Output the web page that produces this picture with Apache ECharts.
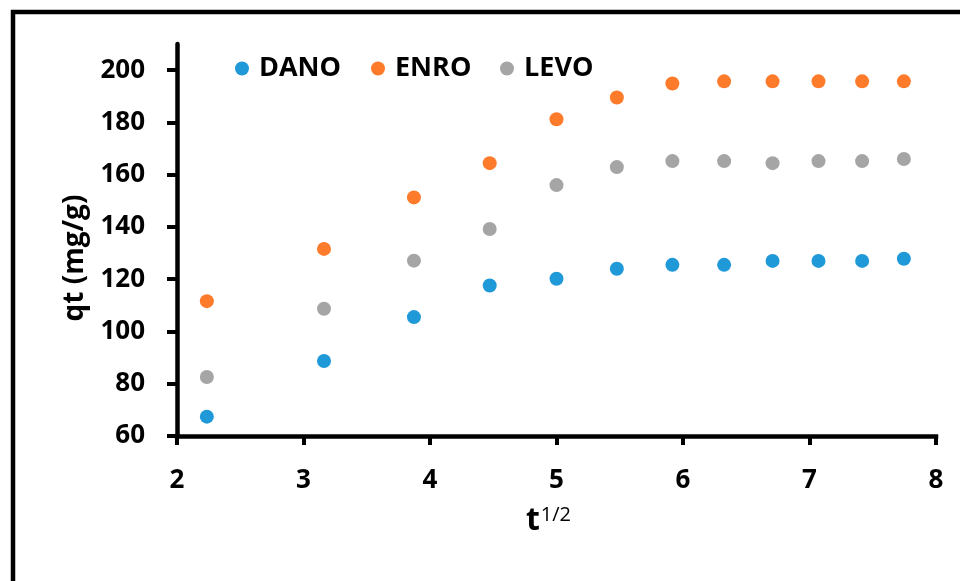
<!DOCTYPE html>
<html>
<head>
<meta charset="utf-8">
<script src="https://cdn.jsdelivr.net/npm/echarts@6/dist/echarts.min.js"></script>
<style>
html,body{margin:0;padding:0;background:#fff;}
#c{width:960px;height:581px;}
</style>
</head>
<body>
<div id="c"></div>
<script>
// sqrt(t) values (t = 5 ... 60 min)
var tHalf = [2.236, 3.162, 3.873, 4.472, 5.0, 5.477, 5.916, 6.325, 6.708, 7.071, 7.416, 7.746];
var dano = [67.4, 88.7, 105.5, 117.6, 120.2, 124.0, 125.5, 125.5, 127.0, 127.0, 127.0, 127.8];
var enro = [111.6, 131.6, 151.3, 164.4, 181.2, 189.5, 194.9, 195.7, 195.7, 195.7, 195.7, 195.7];
var levo = [82.6, 108.7, 127.1, 139.2, 156.0, 162.9, 165.2, 165.2, 164.4, 165.2, 165.2, 166.0];
var seriesNames = ['DANO', 'ENRO', 'LEVO'];
var seriesColors = ['#1f99d8', '#fd7b2b', '#a5a5a5'];
var yTicks = [60, 80, 100, 120, 140, 160, 180, 200];
var xTicks = [2, 3, 4, 5, 6, 7, 8];

var FONT = '"Open Sans", "Liberation Sans", sans-serif';
var seriesData = [dano, enro, levo];

function pairs(ys) {
  return ys.map(function (v, i) { return [tHalf[i], v]; });
}

var chart = echarts.init(document.getElementById('c'), null, {renderer: 'canvas'});

var legendLefts = [230, 366, 495];
var legends = seriesNames.map(function (n, i) {
  return {
    data: [n],
    left: legendLefts[i],
    top: 50,
    icon: 'circle',
    itemWidth: 24,
    itemHeight: 14,
    selectedMode: false,
    textStyle: {fontFamily: FONT, fontWeight: 'bold', fontSize: 27, color: '#000'}
  };
});

chart.setOption({
  animation: false,
  backgroundColor: '#fff',
  graphic: [{
    type: 'rect',
    shape: {x: 13, y: 12, width: 1200, height: 1000},
    style: {fill: null, stroke: '#000', lineWidth: 4.5},
    silent: true
  }],
  legend: legends,
  grid: {left: 177, right: 24, top: 44, bottom: 145, containLabel: false},
  xAxis: {
    type: 'value',
    min: 2, max: 8, interval: 1,
    name: '{t|t}{s|1/2}',
    nameLocation: 'middle',
    nameGap: 69,
    nameTextStyle: {
      padding: [0, 16, 0, 0],
      rich: {
        t: {fontFamily: FONT, fontWeight: 'bold', fontSize: 32, color: '#000'},
        s: {fontFamily: FONT, fontWeight: 'normal', fontSize: 20, color: '#000', verticalAlign: 'top', padding: [0, 0, 0, 1]}
      }
    },
    splitLine: {show: false},
    axisLine: {show: true, onZero: false, lineStyle: {color: '#000', width: 4.5, cap: 'square'}},
    axisTick: {show: true, length: 9, lineStyle: {color: '#000', width: 4}},
    axisLabel: {
      margin: 32,
      fontFamily: FONT, fontWeight: 'bold', fontSize: 26, color: '#000',
      customValues: xTicks
    }
  },
  yAxis: {
    type: 'value',
    min: 60, max: 210, interval: 20,
    name: 'qt (mg/g)',
    nameLocation: 'middle',
    nameGap: 86,
    nameTextStyle: {fontFamily: FONT, fontWeight: 'bold', fontSize: 28, color: '#000', padding: [0, 36, 0, 0]},
    splitLine: {show: false},
    axisLine: {show: true, onZero: false, lineStyle: {color: '#000', width: 4.5}},
    axisTick: {show: true, length: 10, lineStyle: {color: '#000', width: 4}, customValues: yTicks},
    axisLabel: {
      margin: 32,
      fontFamily: FONT, fontWeight: 'bold', fontSize: 26, color: '#000',
      customValues: yTicks
    }
  },
  series: seriesNames.map(function (n, i) {
    return {
      name: n,
      type: 'scatter',
      symbol: 'circle',
      symbolSize: 14,
      itemStyle: {color: seriesColors[i], opacity: 1},
      data: pairs(seriesData[i])
    };
  })
});
</script>
</body>
</html>
